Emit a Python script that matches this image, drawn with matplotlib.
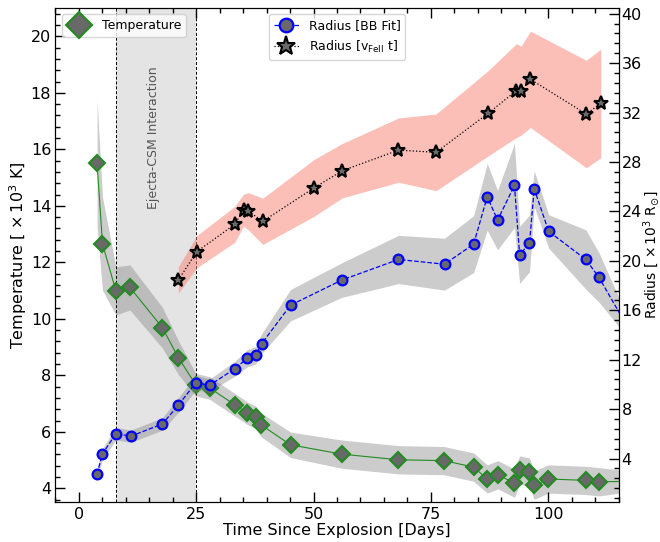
import matplotlib
matplotlib.use('Agg')
import numpy as np
import matplotlib.pyplot as plt
from matplotlib.ticker import MultipleLocator, AutoMinorLocator

# Temperature [x10^3 K] from blackbody fits
t_temp = [3.9, 5.05, 7.9, 10.9, 17.8, 21.2, 24.9, 27.9, 33.2, 35.9, 37.7, 38.8, 45.1,
          56.0, 68.1, 77.8, 84.1, 87.0, 89.3, 92.8, 93.9, 96.0, 97.0, 100.0, 108.0, 110.9, 118.0]
temp = [15.50, 12.66, 10.99, 11.11, 9.69, 8.63, 7.67, 7.55, 6.96, 6.66, 6.51, 6.25, 5.54,
        5.21, 5.01, 4.98, 4.75, 4.33, 4.48, 4.18, 4.65, 4.57, 4.11, 4.33, 4.28, 4.23, 4.25]
temp_err = [2.25, 1.65, 0.85, 0.8, 0.72, 0.6, 0.4, 0.4, 0.4, 0.4, 0.4, 0.42, 0.45,
            0.5, 0.5, 0.5, 0.5, 0.5, 0.5, 0.5, 0.5, 0.5, 0.5, 0.5, 0.5, 0.5, 0.35]

# Radius [x10^3 Rsun] from blackbody fits
t_rbb = [3.9, 5.0, 7.9, 11.1, 17.8, 21.2, 24.9, 27.9, 33.2, 35.9, 37.7, 38.97, 45.1,
         56.0, 68.1, 77.9, 84.1, 87.0, 89.2, 92.8, 93.9, 96.0, 97.0, 100.1, 108.0, 110.8, 118.0]
r_bb = [2.75, 4.35, 6.02, 5.81, 6.80, 8.32, 10.12, 9.94, 11.26, 12.12, 12.36, 13.31, 16.41,
        18.44, 20.11, 19.73, 21.35, 25.18, 23.30, 26.10, 20.49, 21.41, 25.83, 22.38, 20.11, 18.66, 13.9]
r_bb_err = [0.4, 0.45, 0.5, 0.5, 0.5, 0.6, 0.6, 0.5, 0.6, 0.7, 0.7, 0.8, 1.27,
            1.4, 1.95, 2.1, 2.3, 2.7, 2.4, 3.4, 2.3, 2.3, 1.45, 1.35, 2.4, 2.0, 0.6]

# Radius [x10^3 Rsun] from v(FeII) * t
t_rv = [21.2, 25.1, 33.2, 35.1, 36.1, 39.2, 50.1, 56.1, 68.1, 76.1, 87.2, 93.2, 94.2, 96.2, 108.1, 111.2]
r_v = [18.44, 20.73, 22.95, 24.10, 24.02, 23.20, 25.90, 27.29, 28.96, 28.78, 31.94, 33.77, 33.77, 34.69, 31.88, 32.74]
r_v_err = [1.07, 1.3, 1.45, 1.3, 1.5, 1.87, 2.3, 2.2, 2.6, 3.1, 3.45, 3.8, 3.6, 3.9, 4.35, 4.4]

interaction = [8, 25]

t_temp = np.array(t_temp); temp = np.array(temp); temp_err = np.array(temp_err)
t_rbb = np.array(t_rbb); r_bb = np.array(r_bb); r_bb_err = np.array(r_bb_err)
t_rv = np.array(t_rv); r_v = np.array(r_v); r_v_err = np.array(r_v_err)

fig, ax = plt.subplots(figsize=(6.6, 5.42), dpi=100)
fig.subplots_adjust(left=0.0838, right=0.9374, top=0.985, bottom=0.073)
ax2 = ax.twinx()

# ejecta-CSM interaction window
ax.axvspan(interaction[0], interaction[1], color='lightgrey', alpha=0.6, lw=0)
for xv in interaction:
    ax.axvline(xv, color='k', ls=(0, (3, 2)), lw=0.7)
ax.text(16, 16.4, 'Ejecta-CSM Interaction', rotation=90, ha='center', va='center',
        fontsize=9, color='#555555')

# temperature
ax.fill_between(t_temp, temp - temp_err, temp + temp_err, color='grey', alpha=0.4, lw=0)
ax.plot(t_temp, temp, color='forestgreen', lw=0.8, marker='D', ms=8, mfc='dimgrey',
        mec='forestgreen', mew=1.5, label='Temperature')

# radii
ax2.fill_between(t_rbb, r_bb - r_bb_err, r_bb + r_bb_err, color='grey', alpha=0.4, lw=0)
ax2.fill_between(t_rv, r_v - r_v_err, r_v + r_v_err, color='salmon', alpha=0.5, lw=0)
ax2.plot(t_rbb, r_bb, color='blue', ls='--', lw=0.9, marker='o', ms=7, mfc='dimgrey',
         mec='blue', mew=1.6, label='Radius [BB Fit]')
ax2.plot(t_rv, r_v, color='k', ls=':', lw=0.9, marker='*', ms=10, mfc='dimgrey',
         mec='k', mew=1.5, label=r'Radius [v$_{\rm FeII}$ t]')

ax.set_xlim(-5, 115)
ax.set_ylim(3.5, 21)
ax2.set_ylim(0.45, 40.45)

ax.xaxis.set_major_locator(MultipleLocator(25))
ax.xaxis.set_minor_locator(AutoMinorLocator(5))
ax.yaxis.set_major_locator(MultipleLocator(2))
ax.yaxis.set_minor_locator(AutoMinorLocator(5))
ax2.yaxis.set_major_locator(MultipleLocator(4))
ax2.yaxis.set_minor_locator(AutoMinorLocator(5))

ax.tick_params(which='both', direction='in', top=True, right=False, labelsize=11.5, pad=3)
ax.tick_params(which='major', length=7, width=1)
ax.tick_params(which='minor', length=3.5, width=1)
ax2.tick_params(which='both', direction='in', labelsize=11.5, pad=2)
ax2.tick_params(which='major', length=7, width=1)
ax2.tick_params(which='minor', length=3.5, width=1)

ax.set_xlabel('Time Since Explosion [Days]', fontsize=11.5, labelpad=1)
ax.set_ylabel(r'Temperature [ $\times\,10^3$ K]', fontsize=11.5, labelpad=1)
ax2.set_ylabel(r'Radius [ $\times\,10^3$ R$_{\odot}$]', fontsize=10)
ax2.yaxis.set_label_coords(1.04, 0.5)

ax.legend(loc='upper left', fontsize=9, markerscale=1.6)
ax2.legend(loc='upper center', fontsize=9, markerscale=1.4)

plt.savefig('out.png', dpi=100)
plt.close()
